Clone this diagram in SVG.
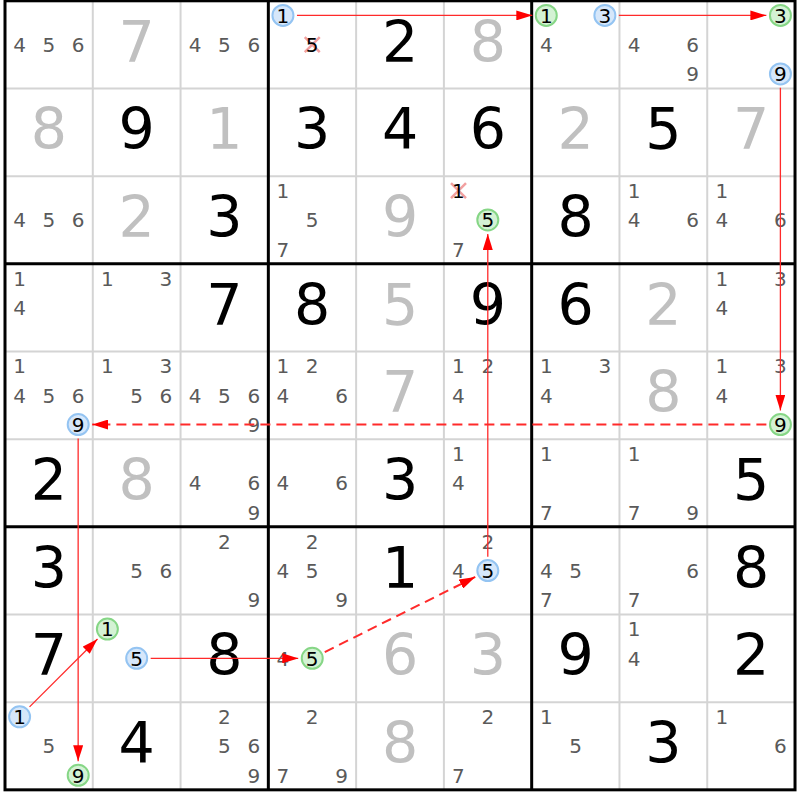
<svg xmlns="http://www.w3.org/2000/svg" width="800" height="800" viewBox="0 0 800 800">
<defs>
<style>
text{font-family:"DejaVu Sans",Verdana,sans-serif;text-anchor:middle}
.c{font-size:20px;fill:#5a5a5a}
.k{font-size:20px;fill:#000}
.g{font-size:57px;fill:#c0c0c0}
.s{font-size:57px;fill:#000}
.cb{fill:#d6e7fa;stroke:#94c4f2;stroke-width:2}
.cg{fill:#d4f2d4;stroke:#86d686;stroke-width:2}
.x{stroke:#f2a0a0;stroke-width:2.5}
.thin{stroke:#d4d4d4;stroke-width:2}
.thick{stroke:#000;stroke-width:3;fill:none}
.ln{stroke:#ff2a2a;stroke-width:1.3;fill:none;marker-end:url(#ah)}
.dl{stroke:#ff2a2a;stroke-width:2;fill:none;stroke-dasharray:10 6;marker-end:url(#ah)}
</style>
<marker id="ah" markerUnits="userSpaceOnUse" markerWidth="16" markerHeight="10" refX="16" refY="5" orient="auto">
<path d="M0,0 L16,5 L0,10 z" fill="#ff0000"/>
</marker>
</defs>
<rect width="800" height="800" fill="#fff"/>
<g id="grid">
<g class="thin">
<line x1="92.78" y1="0.8" x2="92.78" y2="789.83"/>
<line x1="180.56" y1="0.8" x2="180.56" y2="789.83"/>
<line x1="356.12" y1="0.8" x2="356.12" y2="789.83"/>
<line x1="443.9" y1="0.8" x2="443.9" y2="789.83"/>
<line x1="619.46" y1="0.8" x2="619.46" y2="789.83"/>
<line x1="707.24" y1="0.8" x2="707.24" y2="789.83"/>
<line x1="5" y1="88.47" x2="795.02" y2="88.47"/>
<line x1="5" y1="176.14" x2="795.02" y2="176.14"/>
<line x1="5" y1="351.48" x2="795.02" y2="351.48"/>
<line x1="5" y1="439.15" x2="795.02" y2="439.15"/>
<line x1="5" y1="614.49" x2="795.02" y2="614.49"/>
<line x1="5" y1="702.16" x2="795.02" y2="702.16"/>
</g>
<g class="thick">
<line x1="268.34" y1="0.8" x2="268.34" y2="789.83"/>
<line x1="531.68" y1="0.8" x2="531.68" y2="789.83"/>
<line x1="5" y1="263.81" x2="795.02" y2="263.81"/>
<line x1="5" y1="526.82" x2="795.02" y2="526.82"/>
<rect x="5" y="0.8" width="790.02" height="789.03"/>
</g>
</g>

<!-- row 0 -->
<g id="r0c0" transform="translate(5,0.8)"><text class="c" x="14.6" y="51.1">4</text><text class="c" x="43.9" y="51.1">5</text><text class="c" x="73.2" y="51.1">6</text></g>
<g id="r0c1" transform="translate(92.78,0.8)"><text class="g" x="43.9" y="61">7</text></g>
<g id="r0c2" transform="translate(180.56,0.8)"><text class="c" x="14.6" y="51.1">4</text><text class="c" x="43.9" y="51.1">5</text><text class="c" x="73.2" y="51.1">6</text></g>
<g id="r0c3" transform="translate(268.34,0.8)"><circle class="cb" cx="14.6" cy="14.6" r="10.5"/><text class="k" x="14.6" y="21.9">1</text><path class="x" d="M36.4,36.3 L51.4,51.3 M51.4,36.3 L36.4,51.3"/><text class="k" x="43.9" y="51.1">5</text></g>
<g id="r0c4" transform="translate(356.12,0.8)"><text class="s" x="43.9" y="61">2</text></g>
<g id="r0c5" transform="translate(443.9,0.8)"><text class="g" x="43.9" y="61">8</text></g>
<g id="r0c6" transform="translate(531.68,0.8)"><circle class="cg" cx="14.6" cy="14.6" r="10.5"/><text class="k" x="14.6" y="21.9">1</text><circle class="cb" cx="73.2" cy="14.6" r="10.5"/><text class="k" x="73.2" y="21.9">3</text><text class="c" x="14.6" y="51.1">4</text></g>
<g id="r0c7" transform="translate(619.46,0.8)"><text class="c" x="14.6" y="51.1">4</text><text class="c" x="73.2" y="51.1">6</text><text class="c" x="73.2" y="80.4">9</text></g>
<g id="r0c8" transform="translate(707.24,0.8)"><circle class="cg" cx="73.2" cy="14.6" r="10.5"/><text class="k" x="73.2" y="21.9">3</text><circle class="cb" cx="73.2" cy="73.1" r="10.5"/><text class="k" x="73.2" y="80.4">9</text></g>

<!-- row 1 -->
<g id="r1c0" transform="translate(5,88.47)"><text class="g" x="43.9" y="61">8</text></g>
<g id="r1c1" transform="translate(92.78,88.47)"><text class="s" x="43.9" y="61">9</text></g>
<g id="r1c2" transform="translate(180.56,88.47)"><text class="g" x="43.9" y="61">1</text></g>
<g id="r1c3" transform="translate(268.34,88.47)"><text class="s" x="43.9" y="61">3</text></g>
<g id="r1c4" transform="translate(356.12,88.47)"><text class="s" x="43.9" y="61">4</text></g>
<g id="r1c5" transform="translate(443.9,88.47)"><text class="s" x="43.9" y="61">6</text></g>
<g id="r1c6" transform="translate(531.68,88.47)"><text class="g" x="43.9" y="61">2</text></g>
<g id="r1c7" transform="translate(619.46,88.47)"><text class="s" x="43.9" y="61">5</text></g>
<g id="r1c8" transform="translate(707.24,88.47)"><text class="g" x="43.9" y="61">7</text></g>

<!-- row 2 -->
<g id="r2c0" transform="translate(5,176.14)"><text class="c" x="14.6" y="51.1">4</text><text class="c" x="43.9" y="51.1">5</text><text class="c" x="73.2" y="51.1">6</text></g>
<g id="r2c1" transform="translate(92.78,176.14)"><text class="g" x="43.9" y="61">2</text></g>
<g id="r2c2" transform="translate(180.56,176.14)"><text class="s" x="43.9" y="61">3</text></g>
<g id="r2c3" transform="translate(268.34,176.14)"><text class="c" x="14.6" y="21.9">1</text><text class="c" x="43.9" y="51.1">5</text><text class="c" x="14.6" y="80.4">7</text></g>
<g id="r2c4" transform="translate(356.12,176.14)"><text class="g" x="43.9" y="61">9</text></g>
<g id="r2c5" transform="translate(443.9,176.14)"><path class="x" d="M7.1,7.1 L22.1,22.1 M22.1,7.1 L7.1,22.1"/><text class="k" x="14.6" y="21.9">1</text><circle class="cg" cx="43.9" cy="43.8" r="10.5"/><text class="k" x="43.9" y="51.1">5</text><text class="c" x="14.6" y="80.4">7</text></g>
<g id="r2c6" transform="translate(531.68,176.14)"><text class="s" x="43.9" y="61">8</text></g>
<g id="r2c7" transform="translate(619.46,176.14)"><text class="c" x="14.6" y="21.9">1</text><text class="c" x="14.6" y="51.1">4</text><text class="c" x="73.2" y="51.1">6</text></g>
<g id="r2c8" transform="translate(707.24,176.14)"><text class="c" x="14.6" y="21.9">1</text><text class="c" x="14.6" y="51.1">4</text><text class="c" x="73.2" y="51.1">6</text></g>

<!-- row 3 -->
<g id="r3c0" transform="translate(5,263.81)"><text class="c" x="14.6" y="21.9">1</text><text class="c" x="14.6" y="51.1">4</text></g>
<g id="r3c1" transform="translate(92.78,263.81)"><text class="c" x="14.6" y="21.9">1</text><text class="c" x="73.2" y="21.9">3</text></g>
<g id="r3c2" transform="translate(180.56,263.81)"><text class="s" x="43.9" y="61">7</text></g>
<g id="r3c3" transform="translate(268.34,263.81)"><text class="s" x="43.9" y="61">8</text></g>
<g id="r3c4" transform="translate(356.12,263.81)"><text class="g" x="43.9" y="61">5</text></g>
<g id="r3c5" transform="translate(443.9,263.81)"><text class="s" x="43.9" y="61">9</text></g>
<g id="r3c6" transform="translate(531.68,263.81)"><text class="s" x="43.9" y="61">6</text></g>
<g id="r3c7" transform="translate(619.46,263.81)"><text class="g" x="43.9" y="61">2</text></g>
<g id="r3c8" transform="translate(707.24,263.81)"><text class="c" x="14.6" y="21.9">1</text><text class="c" x="73.2" y="21.9">3</text><text class="c" x="14.6" y="51.1">4</text></g>

<!-- row 4 -->
<g id="r4c0" transform="translate(5,351.48)"><text class="c" x="14.6" y="21.9">1</text><text class="c" x="14.6" y="51.1">4</text><text class="c" x="43.9" y="51.1">5</text><text class="c" x="73.2" y="51.1">6</text><circle class="cb" cx="73.2" cy="73.1" r="10.5"/><text class="k" x="73.2" y="80.4">9</text></g>
<g id="r4c1" transform="translate(92.78,351.48)"><text class="c" x="14.6" y="21.9">1</text><text class="c" x="73.2" y="21.9">3</text><text class="c" x="43.9" y="51.1">5</text><text class="c" x="73.2" y="51.1">6</text></g>
<g id="r4c2" transform="translate(180.56,351.48)"><text class="c" x="14.6" y="51.1">4</text><text class="c" x="43.9" y="51.1">5</text><text class="c" x="73.2" y="51.1">6</text><text class="c" x="73.2" y="80.4">9</text></g>
<g id="r4c3" transform="translate(268.34,351.48)"><text class="c" x="14.6" y="21.9">1</text><text class="c" x="43.9" y="21.9">2</text><text class="c" x="14.6" y="51.1">4</text><text class="c" x="73.2" y="51.1">6</text></g>
<g id="r4c4" transform="translate(356.12,351.48)"><text class="g" x="43.9" y="61">7</text></g>
<g id="r4c5" transform="translate(443.9,351.48)"><text class="c" x="14.6" y="21.9">1</text><text class="c" x="43.9" y="21.9">2</text><text class="c" x="14.6" y="51.1">4</text></g>
<g id="r4c6" transform="translate(531.68,351.48)"><text class="c" x="14.6" y="21.9">1</text><text class="c" x="73.2" y="21.9">3</text><text class="c" x="14.6" y="51.1">4</text></g>
<g id="r4c7" transform="translate(619.46,351.48)"><text class="g" x="43.9" y="61">8</text></g>
<g id="r4c8" transform="translate(707.24,351.48)"><text class="c" x="14.6" y="21.9">1</text><text class="c" x="73.2" y="21.9">3</text><text class="c" x="14.6" y="51.1">4</text><circle class="cg" cx="73.2" cy="73.1" r="10.5"/><text class="k" x="73.2" y="80.4">9</text></g>

<!-- row 5 -->
<g id="r5c0" transform="translate(5,439.15)"><text class="s" x="43.9" y="61">2</text></g>
<g id="r5c1" transform="translate(92.78,439.15)"><text class="g" x="43.9" y="61">8</text></g>
<g id="r5c2" transform="translate(180.56,439.15)"><text class="c" x="14.6" y="51.1">4</text><text class="c" x="73.2" y="51.1">6</text><text class="c" x="73.2" y="80.4">9</text></g>
<g id="r5c3" transform="translate(268.34,439.15)"><text class="c" x="14.6" y="51.1">4</text><text class="c" x="73.2" y="51.1">6</text></g>
<g id="r5c4" transform="translate(356.12,439.15)"><text class="s" x="43.9" y="61">3</text></g>
<g id="r5c5" transform="translate(443.9,439.15)"><text class="c" x="14.6" y="21.9">1</text><text class="c" x="14.6" y="51.1">4</text></g>
<g id="r5c6" transform="translate(531.68,439.15)"><text class="c" x="14.6" y="21.9">1</text><text class="c" x="14.6" y="80.4">7</text></g>
<g id="r5c7" transform="translate(619.46,439.15)"><text class="c" x="14.6" y="21.9">1</text><text class="c" x="14.6" y="80.4">7</text><text class="c" x="73.2" y="80.4">9</text></g>
<g id="r5c8" transform="translate(707.24,439.15)"><text class="s" x="43.9" y="61">5</text></g>

<!-- row 6 -->
<g id="r6c0" transform="translate(5,526.82)"><text class="s" x="43.9" y="61">3</text></g>
<g id="r6c1" transform="translate(92.78,526.82)"><text class="c" x="43.9" y="51.1">5</text><text class="c" x="73.2" y="51.1">6</text></g>
<g id="r6c2" transform="translate(180.56,526.82)"><text class="c" x="43.9" y="21.9">2</text><text class="c" x="73.2" y="80.4">9</text></g>
<g id="r6c3" transform="translate(268.34,526.82)"><text class="c" x="43.9" y="21.9">2</text><text class="c" x="14.6" y="51.1">4</text><text class="c" x="43.9" y="51.1">5</text><text class="c" x="73.2" y="80.4">9</text></g>
<g id="r6c4" transform="translate(356.12,526.82)"><text class="s" x="43.9" y="61">1</text></g>
<g id="r6c5" transform="translate(443.9,526.82)"><text class="c" x="43.9" y="21.9">2</text><text class="c" x="14.6" y="51.1">4</text><circle class="cb" cx="43.9" cy="43.8" r="10.5"/><text class="k" x="43.9" y="51.1">5</text></g>
<g id="r6c6" transform="translate(531.68,526.82)"><text class="c" x="14.6" y="51.1">4</text><text class="c" x="43.9" y="51.1">5</text><text class="c" x="14.6" y="80.4">7</text></g>
<g id="r6c7" transform="translate(619.46,526.82)"><text class="c" x="73.2" y="51.1">6</text><text class="c" x="14.6" y="80.4">7</text></g>
<g id="r6c8" transform="translate(707.24,526.82)"><text class="s" x="43.9" y="61">8</text></g>

<!-- row 7 -->
<g id="r7c0" transform="translate(5,614.49)"><text class="s" x="43.9" y="61">7</text></g>
<g id="r7c1" transform="translate(92.78,614.49)"><circle class="cg" cx="14.6" cy="14.6" r="10.5"/><text class="k" x="14.6" y="21.9">1</text><circle class="cb" cx="43.9" cy="43.8" r="10.5"/><text class="k" x="43.9" y="51.1">5</text></g>
<g id="r7c2" transform="translate(180.56,614.49)"><text class="s" x="43.9" y="61">8</text></g>
<g id="r7c3" transform="translate(268.34,614.49)"><text class="c" x="14.6" y="51.1">4</text><circle class="cg" cx="43.9" cy="43.8" r="10.5"/><text class="k" x="43.9" y="51.1">5</text></g>
<g id="r7c4" transform="translate(356.12,614.49)"><text class="g" x="43.9" y="61">6</text></g>
<g id="r7c5" transform="translate(443.9,614.49)"><text class="g" x="43.9" y="61">3</text></g>
<g id="r7c6" transform="translate(531.68,614.49)"><text class="s" x="43.9" y="61">9</text></g>
<g id="r7c7" transform="translate(619.46,614.49)"><text class="c" x="14.6" y="21.9">1</text><text class="c" x="14.6" y="51.1">4</text></g>
<g id="r7c8" transform="translate(707.24,614.49)"><text class="s" x="43.9" y="61">2</text></g>

<!-- row 8 -->
<g id="r8c0" transform="translate(5,702.16)"><circle class="cb" cx="14.6" cy="14.6" r="10.5"/><text class="k" x="14.6" y="21.9">1</text><text class="c" x="43.9" y="51.1">5</text><circle class="cg" cx="73.2" cy="73.1" r="10.5"/><text class="k" x="73.2" y="80.4">9</text></g>
<g id="r8c1" transform="translate(92.78,702.16)"><text class="s" x="43.9" y="61">4</text></g>
<g id="r8c2" transform="translate(180.56,702.16)"><text class="c" x="43.9" y="21.9">2</text><text class="c" x="43.9" y="51.1">5</text><text class="c" x="73.2" y="51.1">6</text><text class="c" x="73.2" y="80.4">9</text></g>
<g id="r8c3" transform="translate(268.34,702.16)"><text class="c" x="43.9" y="21.9">2</text><text class="c" x="14.6" y="80.4">7</text><text class="c" x="73.2" y="80.4">9</text></g>
<g id="r8c4" transform="translate(356.12,702.16)"><text class="g" x="43.9" y="61">8</text></g>
<g id="r8c5" transform="translate(443.9,702.16)"><text class="c" x="43.9" y="21.9">2</text><text class="c" x="14.6" y="80.4">7</text></g>
<g id="r8c6" transform="translate(531.68,702.16)"><text class="c" x="14.6" y="21.9">1</text><text class="c" x="43.9" y="51.1">5</text></g>
<g id="r8c7" transform="translate(619.46,702.16)"><text class="s" x="43.9" y="61">3</text></g>
<g id="r8c8" transform="translate(707.24,702.16)"><text class="c" x="14.6" y="21.9">1</text><text class="c" x="73.2" y="51.1">6</text></g>

<g id="connectors">
<line class="ln" x1="296.97" y1="15.41" x2="532.31" y2="15.41"/>
<line class="ln" x1="618.83" y1="15.41" x2="766.39" y2="15.41"/>
<line class="ln" x1="780.39" y1="87.86" x2="780.39" y2="410.54"/>
<line class="dl" x1="766.39" y1="424.54" x2="92.15" y2="424.54"/>
<line class="ln" x1="78.15" y1="438.54" x2="78.15" y2="761.22"/>
<line class="ln" x1="29.53" y1="706.88" x2="97.51" y2="638.99"/>
<line class="ln" x1="150.67" y1="658.33" x2="298.23" y2="658.33"/>
<line class="dl" x1="324.76" y1="652.07" x2="475.26" y2="576.92"/>
<line class="ln" x1="487.79" y1="556.66" x2="487.79" y2="233.98"/>
</g>
</svg>
